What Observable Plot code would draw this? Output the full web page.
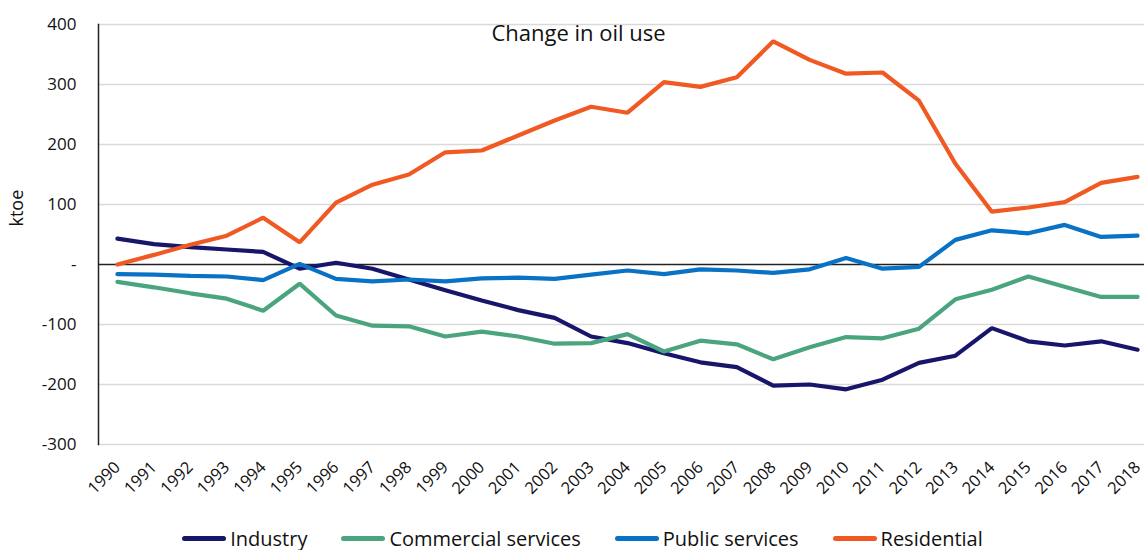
<!DOCTYPE html>
<html>
<head>
<meta charset="utf-8">
<script src="https://cdn.jsdelivr.net/npm/d3@7"></script>
<script src="https://cdn.jsdelivr.net/npm/@observablehq/plot@0.6"></script>
<style>
  html, body { margin: 0; padding: 0; background: #fff; overflow: hidden; }
  body { width: 1144px; height: 550px; font-family: "Open Sans", sans-serif; }
  #legend { display: flex; justify-content: center; align-items: center; height: 24px; padding-top: 11px; padding-left: 21px; font-size: 20px; color: #111; }
  .item { display: flex; align-items: center; margin: 0 17px; }
  .swatch { width: 44px; height: 5px; border-radius: 3px; margin-right: 4px; }
</style>
</head>
<body>
<div id="chart"></div>
<div id="legend"></div>
<script>
// Years on the horizontal axis
const years = [1990, 1991, 1992, 1993, 1994, 1995, 1996, 1997, 1998, 1999,
  2000, 2001, 2002, 2003, 2004, 2005, 2006, 2007, 2008, 2009,
  2010, 2011, 2012, 2013, 2014, 2015, 2016, 2017, 2018];

// Change in oil use since 1990, ktoe
const industry = [43, 34, 29, 25, 21, -7, 3, -7, -25, -43,
  -60, -76, -89, -120, -131, -148, -163, -171, -202, -200,
  -208, -192, -164, -152, -106, -128, -135, -128, -142];
const commercial = [-29, -38, -48, -57, -77, -32, -85, -102, -103, -120,
  -112, -120, -132, -131, -116, -145, -127, -133, -158, -138,
  -121, -123, -107, -58, -42, -20, -37, -54, -54];
const publicServices = [-16, -17, -19, -20, -26, 1, -24, -28, -25, -28,
  -23, -22, -24, -17, -10, -16, -8, -10, -14, -8,
  11, -7, -4, 41, 57, 52, 66, 46, 48];
const residential = [0, 16, 33, 48, 78, 37, 103, 133, 150, 187,
  190, 215, 240, 263, 253, 304, 296, 312, 372, 341,
  318, 320, 273, 168, 88, 95, 104, 136, 146];

const seriesNames = ["Industry", "Commercial services", "Public services", "Residential"];
const seriesValues = [industry, commercial, publicServices, residential];
const seriesColors = ["#17166a", "#4aa57f", "#0a72c4", "#f05a22"];

const yTicks = [-300, -200, -100, 0, 100, 200, 300, 400];

// Long table for the line marks
const rows = [];
seriesNames.forEach((name, i) => {
  years.forEach((year, j) => rows.push({ series: name, year, value: seriesValues[i][j] }));
});

const xDomain = [1989.48, 2018.19];

const chart = Plot.plot({
  width: 1144,
  height: 515,
  marginLeft: 98,
  marginRight: 0,
  marginTop: 24,
  marginBottom: 71,
  style: { fontFamily: "'Open Sans', sans-serif", color: "#111", background: "#fff" },
  x: { type: "linear", domain: xDomain },
  y: { domain: [-300, 400] },
  color: { domain: seriesNames, range: seriesColors },
  marks: [
    Plot.gridY(yTicks.filter(v => v !== 0), { stroke: "#d9d9d9", strokeOpacity: 1, strokeWidth: 1.5 }),
    Plot.ruleY([0], { stroke: "#222", strokeWidth: 1.5 }),
    Plot.frame({ anchor: "left", stroke: "#222", strokeWidth: 1.5 }),
    Plot.axisY({
      ticks: yTicks, tickSize: 0, tickPadding: 22, fontSize: 17, label: null,
      tickFormat: d => (d === 0 ? "-" : String(d))
    }),
    Plot.axisX({
      ticks: years, tickSize: 0, tickPadding: 20, tickRotate: -45, fontSize: 16.5, label: null,
      tickFormat: d => String(d)
    }),
    Plot.lineY(rows, {
      x: "year", y: "value", z: "series", stroke: "series",
      strokeWidth: 4.2, strokeLinejoin: "miter", strokeLinecap: "round"
    }),
    Plot.text(["Change in oil use"], {
      frameAnchor: "top", dx: -43, dy: 9, lineAnchor: "middle", fontSize: 22, fill: "#111"
    }),
    Plot.text(["ktoe"], {
      frameAnchor: "left", dx: -81, dy: -8, rotate: -90, fontSize: 18, fill: "#111"
    })
  ]
});
document.getElementById("chart").appendChild(chart);

// Legend below the chart
const legend = document.getElementById("legend");
seriesNames.forEach((name, i) => {
  const item = document.createElement("div");
  item.className = "item";
  const sw = document.createElement("span");
  sw.className = "swatch";
  sw.style.background = seriesColors[i];
  const label = document.createElement("span");
  label.textContent = name;
  item.appendChild(sw);
  item.appendChild(label);
  legend.appendChild(item);
});
</script>
</body>
</html>
